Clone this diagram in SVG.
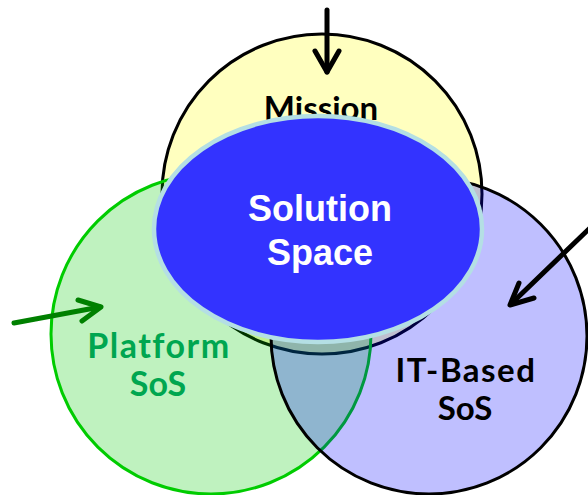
<svg xmlns="http://www.w3.org/2000/svg" width="588" height="495" viewBox="0 0 588 495">
  <style>
    .set { stroke-width: 3; fill-opacity: 0.25; }
    .lbl { font-family: Lato, "Open Sans", sans-serif; font-weight: bold; text-anchor: middle; }
    .wide { letter-spacing: 1.5px; }
    .core { font-family: "Liberation Sans", Arial, sans-serif; font-weight: bold; font-size: 36px; fill: #ffffff; text-anchor: middle; }
    .arrow { fill: none; stroke-width: 5; stroke-linecap: round; stroke-linejoin: round; }
  </style>
  <rect width="588" height="495" fill="#ffffff"/>

  <!-- Venn sets, translucent so their overlaps blend -->
  <g id="mission">
    <circle class="set" cx="322" cy="194" r="160" fill="#ffff00" stroke="#000000"/>
    <text class="lbl" x="321" y="120" font-size="33" fill="#000000">Mission</text>
  </g>
  <g id="platform-sos">
    <circle class="set" cx="211" cy="334" r="160" fill="#00cc00" stroke="#00cc00"/>
    <text class="lbl wide" x="159" y="358" font-size="34" fill="#00a650">Platform</text>
    <text class="lbl" x="158" y="396" font-size="34" fill="#00a650">SoS</text>
  </g>
  <g id="it-based-sos">
    <circle class="set" cx="429" cy="336" r="158" fill="#0000ff" stroke="#000000"/>
    <text class="lbl wide" x="466" y="382" font-size="33" fill="#000000">IT-Based</text>
    <text class="lbl" x="465" y="420" font-size="33" fill="#000000">SoS</text>
  </g>

  <!-- Solution space over the shared region -->
  <g id="solution-space">
    <ellipse cx="318" cy="229" rx="164" ry="113" fill="#3333ff" stroke="#b4dfe4" stroke-width="4.5"/>
    <text class="core" x="320" y="221">Solution</text>
    <text class="core" x="320" y="265">Space</text>
  </g>

  <!-- Inbound arrows -->
  <g id="connectors">
    <g stroke="#000000" class="arrow">
      <path d="M327 10 L327 72"/>
      <path d="M315 51 L327 72 L339 51"/>
    </g>
    <g stroke="#008000" class="arrow">
      <path d="M14 323 L100 307"/>
      <path d="M78 300 L101 307 L82 321"/>
    </g>
    <g stroke="#000000" class="arrow">
      <path d="M592 226 L511 304"/>
      <path d="M519 283 L510 305 L534 298"/>
    </g>
  </g>
</svg>
